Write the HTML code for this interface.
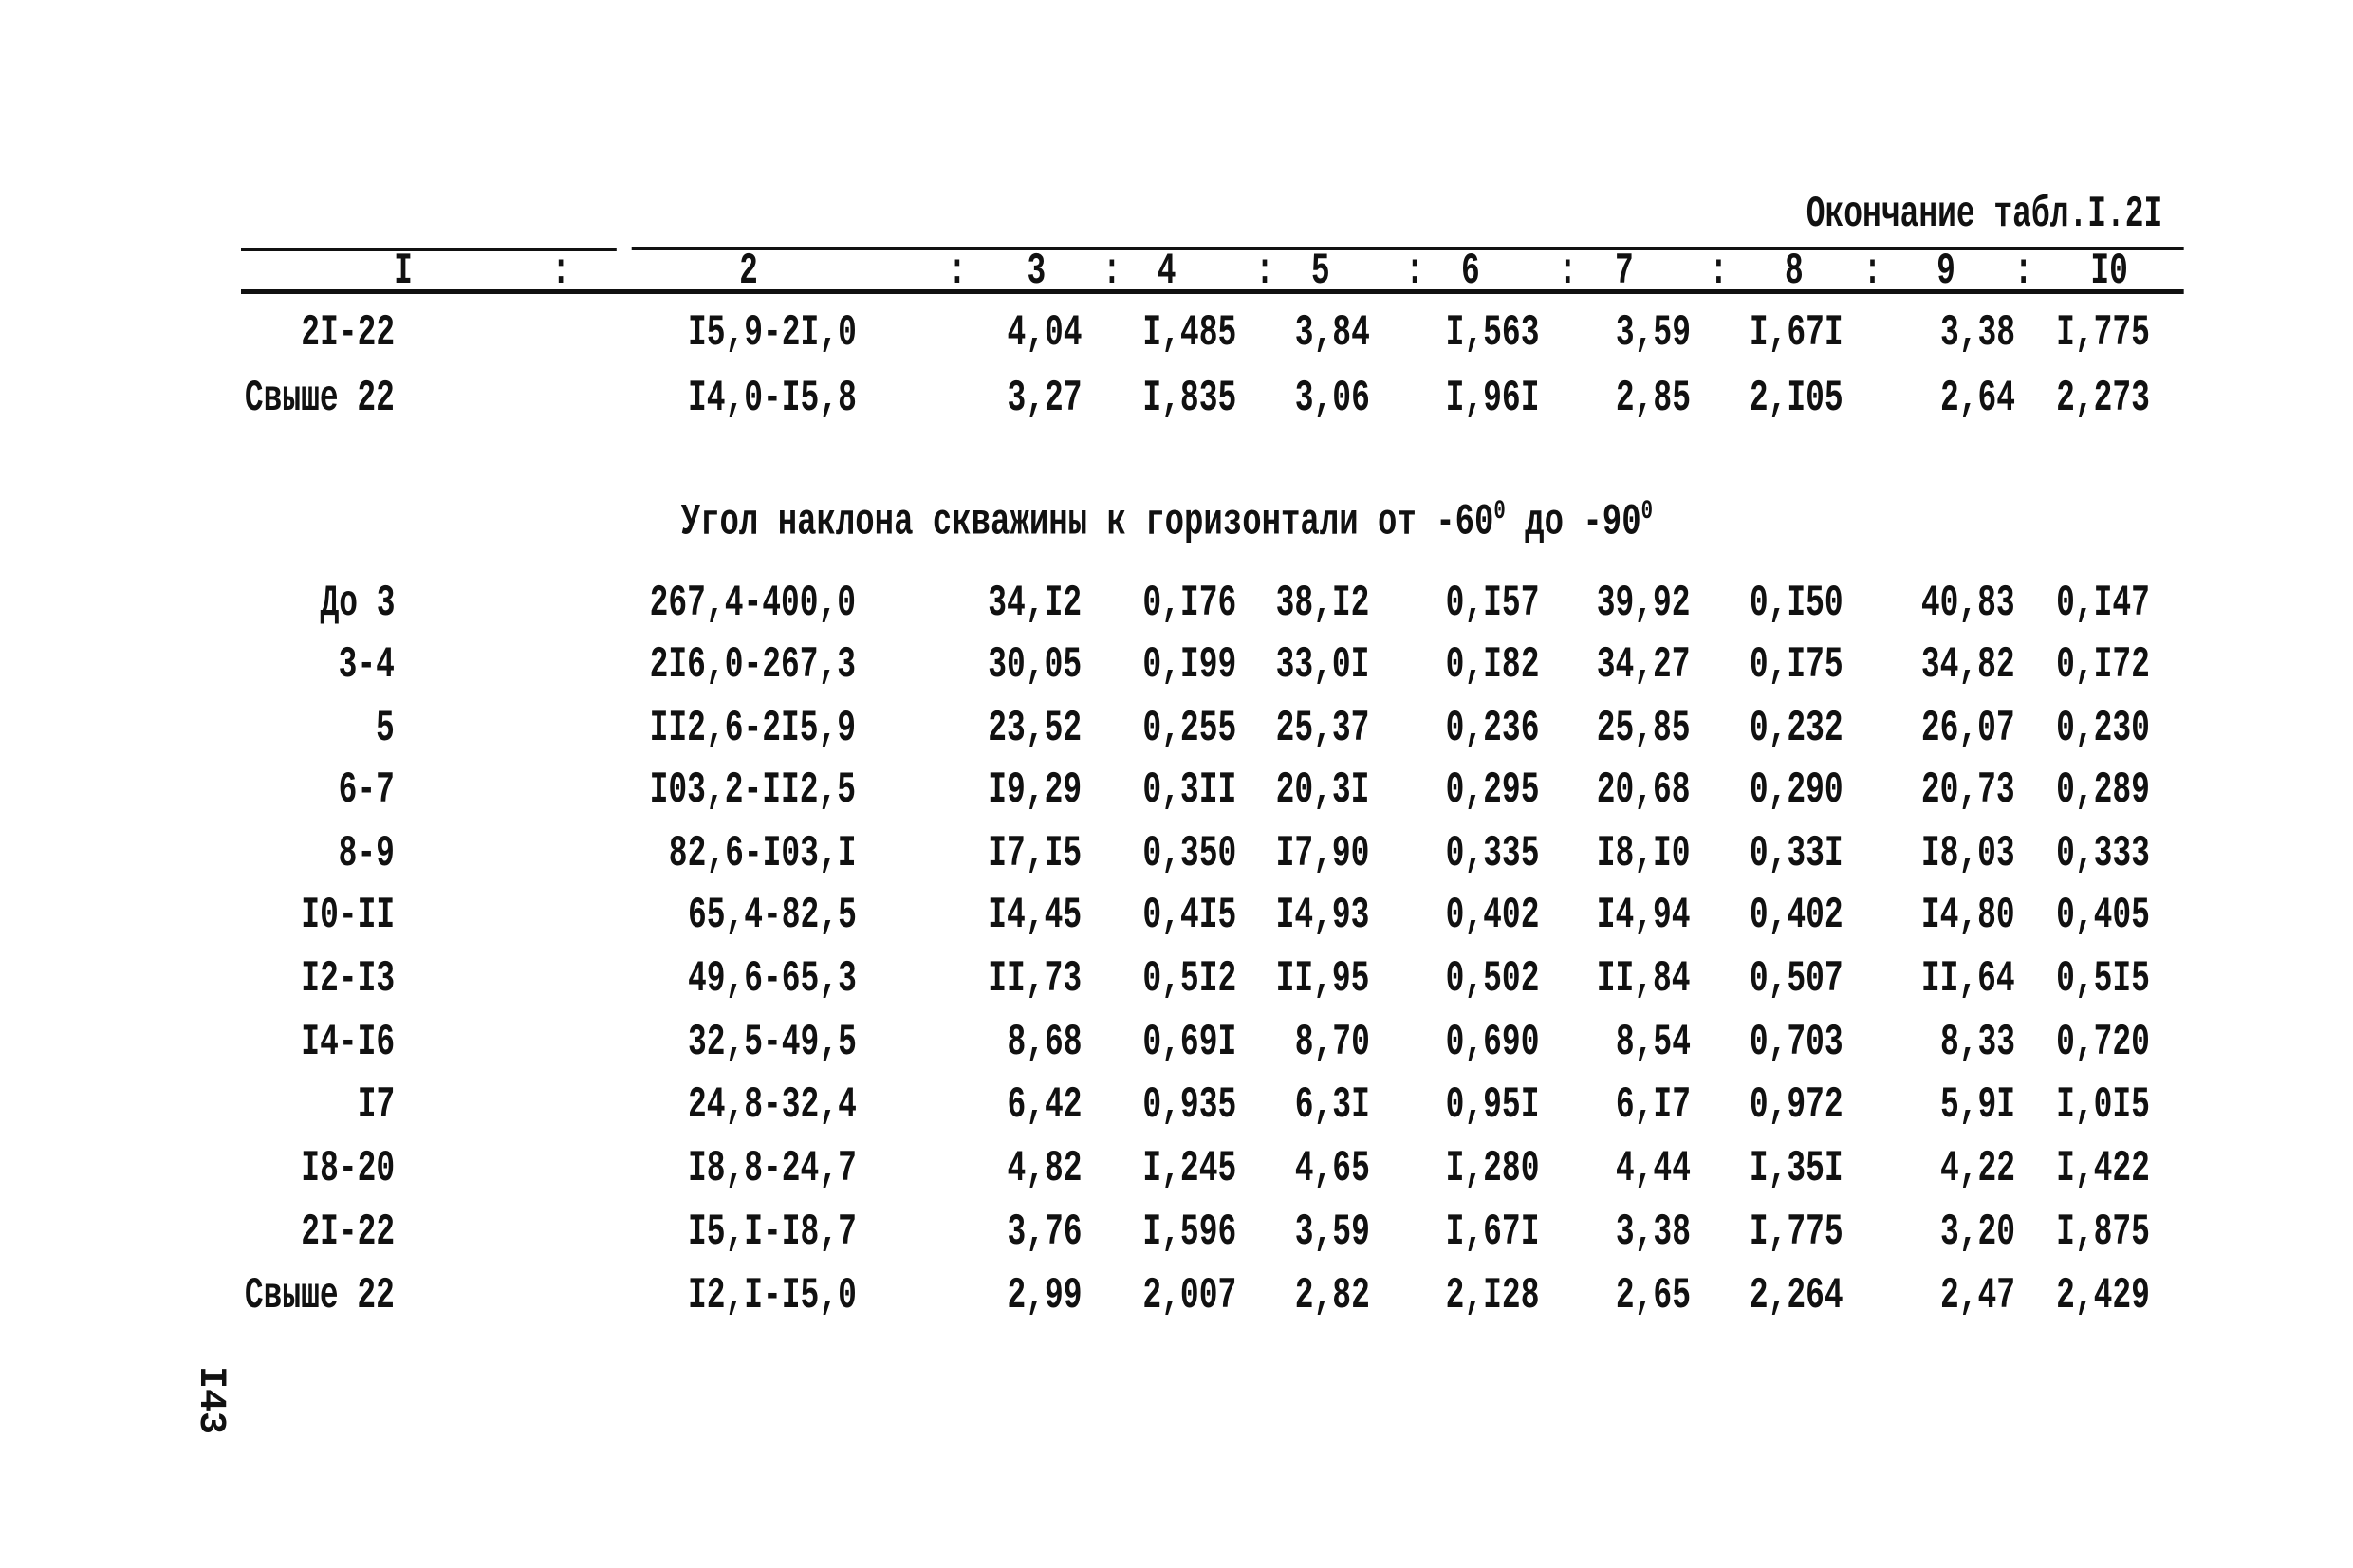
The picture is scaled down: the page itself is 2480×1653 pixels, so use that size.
<!DOCTYPE html>
<html><head><meta charset="utf-8"><style>
body{margin:0;background:#fff;}
#p{position:relative;width:2480px;height:1653px;overflow:hidden;background:#fff;font-family:"Liberation Mono",monospace;color:#111;font-weight:bold;}
#w{position:absolute;left:0;top:0;width:2480px;height:1653px;transform:scaleX(0.9945);transform-origin:254px 0;}
.t{position:absolute;font-size:46px;line-height:46px;white-space:nowrap;transform:scaleX(0.72);transform-origin:right center;}
.c{position:absolute;font-size:46px;line-height:46px;white-space:nowrap;transform:translateX(-50%) scaleX(0.72);}
.r{position:absolute;background:#111;height:4px;}
</style></head><body><div id="p"><div id="w">
<div class="t" style="right:190px;top:203px;">Окончание табл.I.2I</div>
<div class="r" style="left:254px;width:398px;top:261px;"></div>
<div class="r" style="left:668px;width:1645px;top:260px;"></div>
<div class="r" style="left:254px;width:2059px;top:305px;height:5px;"></div>
<div class="c" style="left:426px;top:263px;">I</div>
<div class="c" style="left:593px;top:263px;">:</div>
<div class="c" style="left:792px;top:263px;">2</div>
<div class="c" style="left:1013px;top:263px;">:</div>
<div class="c" style="left:1097px;top:263px;">3</div>
<div class="c" style="left:1177px;top:263px;">:</div>
<div class="c" style="left:1235px;top:263px;">4</div>
<div class="c" style="left:1339px;top:263px;">:</div>
<div class="c" style="left:1398px;top:263px;">5</div>
<div class="c" style="left:1498px;top:263px;">:</div>
<div class="c" style="left:1557px;top:263px;">6</div>
<div class="c" style="left:1660px;top:263px;">:</div>
<div class="c" style="left:1720px;top:263px;">7</div>
<div class="c" style="left:1820px;top:263px;">:</div>
<div class="c" style="left:1900px;top:263px;">8</div>
<div class="c" style="left:1983px;top:263px;">:</div>
<div class="c" style="left:2061px;top:263px;">9</div>
<div class="c" style="left:2143px;top:263px;">:</div>
<div class="c" style="left:2234px;top:263px;">I0</div>
<div class="t" style="right:730px;top:517px;transform:scaleX(0.743);">Угол наклона скважины к горизонтали от -60<sup style="font-size:28px">0</sup> до -90<sup style="font-size:28px">0</sup></div>
<div id="rows"></div>
</div>
<div class="t" style="left:244px;top:1440px;transform:rotate(90deg);transform-origin:left top;font-size:40px;">I43</div>
</div>
<script>
var R=[417,906,1145,1309,1450,1630,1790,1952,2134,2277];
var rows=[
[351,["2I-22","I5,9-2I,0","4,04","I,485","3,84","I,563","3,59","I,67I","3,38","I,775"]],
[420,["Свыше 22","I4,0-I5,8","3,27","I,835","3,06","I,96I","2,85","2,I05","2,64","2,273"]],
[636,["До 3","267,4-400,0","34,I2","0,I76","38,I2","0,I57","39,92","0,I50","40,83","0,I47"]],
[701,["3-4","2I6,0-267,3","30,05","0,I99","33,0I","0,I82","34,27","0,I75","34,82","0,I72"]],
[768,["5","II2,6-2I5,9","23,52","0,255","25,37","0,236","25,85","0,232","26,07","0,230"]],
[833,["6-7","I03,2-II2,5","I9,29","0,3II","20,3I","0,295","20,68","0,290","20,73","0,289"]],
[900,["8-9","82,6-I03,I","I7,I5","0,350","I7,90","0,335","I8,I0","0,33I","I8,03","0,333"]],
[965,["I0-II","65,4-82,5","I4,45","0,4I5","I4,93","0,402","I4,94","0,402","I4,80","0,405"]],
[1032,["I2-I3","49,6-65,3","II,73","0,5I2","II,95","0,502","II,84","0,507","II,64","0,5I5"]],
[1099,["I4-I6","32,5-49,5","8,68","0,69I","8,70","0,690","8,54","0,703","8,33","0,720"]],
[1165,["I7","24,8-32,4","6,42","0,935","6,3I","0,95I","6,I7","0,972","5,9I","I,0I5"]],
[1232,["I8-20","I8,8-24,7","4,82","I,245","4,65","I,280","4,44","I,35I","4,22","I,422"]],
[1299,["2I-22","I5,I-I8,7","3,76","I,596","3,59","I,67I","3,38","I,775","3,20","I,875"]],
[1366,["Свыше 22","I2,I-I5,0","2,99","2,007","2,82","2,I28","2,65","2,264","2,47","2,429"]]];
var h="";
rows.forEach(function(r){r[1].forEach(function(v,i){h+='<div class="t" style="right:'+(2480-R[i])+'px;top:'+(r[0]-23)+'px;">'+v+'</div>';});});
document.getElementById("rows").innerHTML=h;
</script>
</body></html>
